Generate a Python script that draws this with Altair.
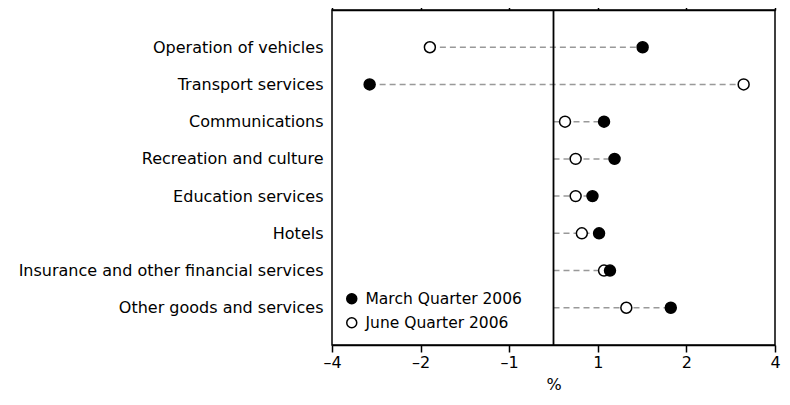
import altair as alt
import pandas as pd
import math

categories = [
    "Operation of vehicles",
    "Transport services",
    "Communications",
    "Recreation and culture",
    "Education services",
    "Hotels",
    "Insurance and other financial services",
    "Other goods and services",
]
march = [1.42, -2.98, 1.05, 1.14, 0.88, 1.01, 1.10, 1.77]
june = [-1.86, 3.13, 0.26, 0.50, 0.50, 0.64, 1.05, 1.25]
series_names = ["March Quarter 2006", "June Quarter 2006"]
tick_values = [-4, -2, -1, 1, 2, 4]
tick_labels = ["\u20134", "\u20132", "\u20131", "1", "2", "4"]

FONT = "DejaVu Sans"
FS = 16

# axis transform: linear within (-1, 1), log2 beyond
POS = "(abs({v}) < 1 ? 0.5 * {v} : (({v}) > 0 ? 1 : -1) * (0.5 + log(abs({v})) / LN2))"


def pos_py(v):
    if abs(v) < 1:
        return 0.5 * v
    return (1 if v > 0 else -1) * (0.5 + math.log2(abs(v)))


tick_pos = [pos_py(v) for v in tick_values]
label_expr = " : ".join(
    [f"abs(datum.value - ({p})) < 0.01 ? '{l}'" for p, l in zip(tick_pos, tick_labels)]
) + " : ''"

rows = []
for c, m, j in zip(categories, march, june):
    rows.append({"cat": c, "lo": min(0, m, j), "hi": max(0, m, j)})
rng = pd.DataFrame(rows)

pts = []
for c, j in zip(categories, june):
    pts.append({"cat": c, "series": series_names[1], "v": j})
for c, m in zip(categories, march):
    pts.append({"cat": c, "series": series_names[0], "v": m})
pts = pd.DataFrame(pts)

xscale = alt.Scale(domain=[-2.5, 2.5], nice=False, zero=False)
yscale = alt.Scale(type="point", domain=categories, padding=1)

bottom_axis = alt.Axis(
    orient="bottom", values=tick_pos, labelExpr=label_expr, title="%", grid=False,
    tickColor="black", tickSize=7, tickWidth=1.5, domain=True, domainColor="black",
    domainWidth=1.5, labelFont=FONT, labelFontSize=FS, labelColor="black",
    titleFont=FONT, titleFontSize=FS, titleFontWeight="normal", titleColor="black",
    labelPadding=2, titlePadding=6, labelFlush=False, labelOverlap=False,
)

yaxis = alt.Axis(
    title=None, ticks=False, domain=False, grid=False, labelFont=FONT,
    labelFontSize=FS, labelColor="black", labelPadding=9, labelLimit=400,
)

rules = alt.Chart(rng).mark_rule(color="#999999", strokeDash=[6, 4], strokeWidth=1.5).transform_calculate(
    plo=POS.format(v="datum.lo"), phi=POS.format(v="datum.hi")
).encode(
    x=alt.X("plo:Q", scale=xscale, axis=bottom_axis),
    x2="phi:Q",
    y=alt.Y("cat:N", scale=yscale, axis=yaxis, sort=categories),
)

top_axis_layer = alt.Chart(rng).mark_rule(opacity=0).transform_calculate(
    plo=POS.format(v="datum.lo")
).encode(
    x=alt.X("plo:Q", scale=xscale, axis=alt.Axis(
        orient="top", values=tick_pos, labels=False, title=None, grid=False,
        tickColor="black", tickSize=8, tickWidth=1.5, domainColor="black", domainWidth=1.5)),
    y=alt.Y("cat:N", scale=yscale, sort=categories),
)

zero = alt.Chart(pd.DataFrame({"z": [0]})).mark_rule(color="black", strokeWidth=1.8).encode(
    x=alt.X("z:Q", scale=xscale, axis=None)
)

points = alt.Chart(pts).mark_point(
    filled=True, size=120, stroke="black", strokeWidth=1.5, opacity=1, shape="circle"
).transform_calculate(p=POS.format(v="datum.v")).encode(
    x=alt.X("p:Q", scale=xscale, axis=None),
    y=alt.Y("cat:N", scale=yscale, sort=categories),
    fill=alt.Fill(
        "series:N",
        scale=alt.Scale(domain=series_names, range=["black", "white"]),
        legend=alt.Legend(
            title=None, orient="none", legendX=12, legendY=281,
            labelFont=FONT, labelFontSize=15.5, labelColor="black",
            symbolSize=100, symbolStrokeColor="black", symbolStrokeWidth=1.5,
            symbolType="circle", rowPadding=6, labelOffset=6, padding=0,
        ),
    ),
)

chart = alt.layer(rules, top_axis_layer, zero, points).resolve_axis(x="independent").properties(
    width=443, height=335,
    background="white",
    autosize=alt.AutoSizeParams(type="none"),
    padding={"left": 324, "top": 2, "right": 7, "bottom": 50},
).configure_view(stroke="black", strokeWidth=1.5)

chart.save("out.html", embed_options={"renderer": "svg", "actions": False})
